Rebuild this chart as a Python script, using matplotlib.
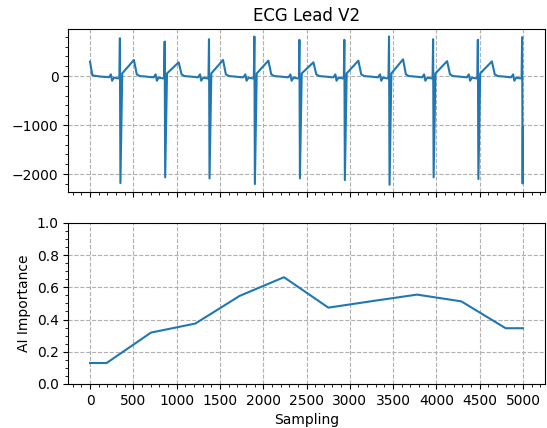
import matplotlib
matplotlib.use('Agg')
import matplotlib.pyplot as plt

# ECG lead V2 - beat parameters
r_peaks = [345, 862, 1374, 1898, 2418, 2937, 3453, 3962, 4479, 4990]
r_height = [774, 705, 753, 808, 740, 740, 808, 753, 740, 795]
s_depth = [-2185, -2068, -2089, -2205, -2089, -2123, -2219, -2068, -2103, -2192]
t_height = [329, 281, 329, 315, 281, 315, 342, 305, 300]

# waveform shape around each R peak (offset in samples, value)
pre_r_offsets = [-125, -104, -90, -68, -40, -18, -6]
pre_r_values = [-22, 35, -95, -32, -40, -48, -35]
post_s_offsets = [27, 162, 195, 230, 300, 380]
post_s_values = [55, None, 35, 0, -10, -25]   # None -> T wave height of the beat

start_x = [0, 27, 120]
start_y = [294, 14, -10]
end_x = [4999]
end_y = [-1050]

# AI importance
imp_x = [0, 192, 704, 1216, 1728, 2240, 2752, 3264, 3776, 4288, 4800, 4999]
imp_y = [0.13, 0.13, 0.319, 0.375, 0.547, 0.663, 0.474, 0.515, 0.555, 0.513, 0.346, 0.346]

# assemble ecg trace
ecg_x = list(start_x)
ecg_y = list(start_y)
for i, r in enumerate(r_peaks):
    for o, v in zip(pre_r_offsets, pre_r_values):
        ecg_x.append(r + o)
        ecg_y.append(v)
    ecg_x += [r, r + 6]
    ecg_y += [r_height[i], s_depth[i]]
    if i < len(t_height):
        for o, v in zip(post_s_offsets, post_s_values):
            ecg_x.append(r + o)
            ecg_y.append(t_height[i] if v is None else v)
ecg_x += end_x
ecg_y += end_y

fig = plt.figure(figsize=(5.47, 4.28), dpi=100)
ax1 = fig.add_axes([0.125, 0.551, 0.8705, 0.381])
ax2 = fig.add_axes([0.125, 0.103, 0.8705, 0.376], sharex=ax1)

ax1.plot(ecg_x, ecg_y, color='#1f77b4', linewidth=1.5)
ax1.set_title('ECG Lead V2')
ax1.set_yticks([-2000, -1000, 0])
ax1.minorticks_on()
ax1.grid(True, linestyle='--')
ax1.tick_params(labelbottom=False)

ax2.plot(imp_x, imp_y, color='#1f77b4', linewidth=1.5)
ax2.set_ylim(0, 1)
ax2.set_ylabel('AI Importance')
ax2.set_xlabel('Sampling')
ax2.set_xticks(range(0, 5001, 500))
ax2.minorticks_on()
ax2.grid(True, linestyle='--')

plt.savefig('out.png')
